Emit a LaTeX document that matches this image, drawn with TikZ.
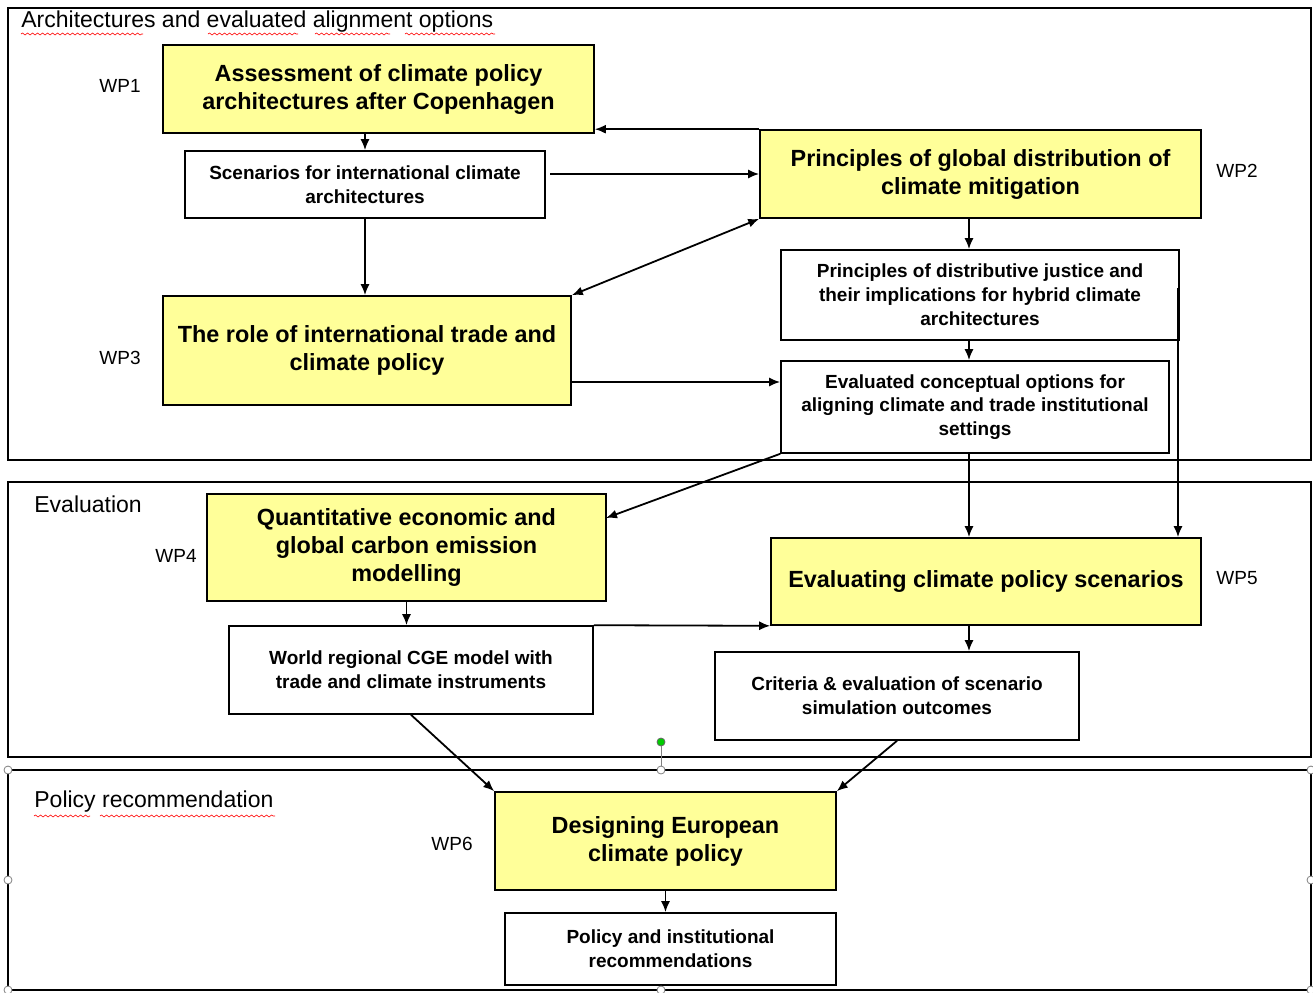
\documentclass[tikz,border=0pt]{standalone}
\usepackage{fontspec}
\setmainfont{Liberation Sans}
\usetikzlibrary{arrows.meta,decorations.pathmorphing}
\definecolor{wpyellow}{RGB}{255,255,153}

\begin{document}
\begin{tikzpicture}[x=0.5pt,y=-0.5pt,
    wp/.style={draw, line width=0.8pt, fill=wpyellow, align=center, inner sep=0pt,
      font=\bfseries\fontsize{11.7}{14}\selectfont},
    res/.style={draw, line width=0.8pt, fill=white, align=center, inner sep=0pt,
      font=\bfseries\fontsize{9.5}{11.9}\selectfont},
    wplabel/.style={font=\fontsize{9.5}{10}\selectfont, inner sep=0pt},
    frametitle/.style={anchor=west, inner sep=0pt, font=\fontsize{11.5}{12}\selectfont},
    arr/.style={-{Latex[length=5.5pt,width=4.5pt]}, line width=0.9pt},
    squiggle/.style={red, line width=0.3pt, decorate,
      decoration={snake, amplitude=0.5pt, segment length=2.5pt}},
    handle/.style={circle, draw=gray, fill=white, inner sep=0pt, minimum size=4pt}]
    \useasboundingbox (0,0) rectangle (1313,992);

    % Frames
    \draw[line width=0.8pt] (8,8) rectangle (1311,460);
    \draw[line width=0.8pt] (8,482) rectangle (1311,757);
    \draw[line width=1pt] (8,770) rectangle (1311,990);

    \node[frametitle] (t1) at (21,22) {Architectures and evaluated alignment options};
    \node[frametitle] (t2) at (34,504) {Evaluation};
    \node[frametitle] (t3) at (34,802) {Policy recommendation};

    % Spell check marks
    \draw[squiggle] (21,34) -- (143,34);
    \draw[squiggle] (208,34) -- (298,34);
    \draw[squiggle] (315,34) -- (390,34);
    \draw[squiggle] (405,34) -- (495,34);
    \draw[squiggle] (352,586) -- (460,586);
    \draw[squiggle] (34,816) -- (90,816);
    \draw[squiggle] (100,816) -- (275,816);

    % Work packages
    \node[wp, minimum width=215.5pt, minimum height=44pt] (wp1) at (378.5,89)
      {Assessment of climate policy\\architectures after Copenhagen};
    \node[wp, minimum width=220.5pt, minimum height=44pt] (wp2) at (980.5,174)
      {Principles of global distribution of\\climate mitigation};
    \node[wp, minimum width=204pt, minimum height=54.5pt] (wp3) at (367,350.5)
      {The role of international trade and\\climate policy};
    \node[wp, minimum width=199.5pt, minimum height=53.5pt] (wp4) at (406.5,547.5)
      {Quantitative economic and\\global carbon emission\\modelling};
    \node[wp, minimum width=215pt, minimum height=43.5pt] (wp5) at (986,581.5)
      {Evaluating climate policy scenarios};
    \node[wp, minimum width=170.5pt, minimum height=49pt] (wp6) at (665.5,841)
      {Designing European\\climate policy};

    % Results
    \node[res, minimum width=180pt, minimum height=33.5pt] (scen) at (365,184.5)
      {Scenarios for international climate\\architectures};
    \node[res, minimum width=199pt, minimum height=45pt] (justice) at (980,295)
      {Principles of distributive justice and\\their implications for hybrid climate\\architectures};
    \node[res, minimum width=194pt, minimum height=46pt] (evalopt) at (975,407)
      {Evaluated conceptual options for\\aligning climate and trade institutional\\settings};
    \node[res, minimum width=182pt, minimum height=44pt] (cge) at (411,670)
      {World regional CGE model with\\trade and climate instruments};
    \node[res, minimum width=182pt, minimum height=44pt] (crit) at (897,696)
      {Criteria \& evaluation of scenario\\simulation outcomes};
    \node[res, minimum width=165.5pt, minimum height=36pt] (recom) at (670.5,949)
      {Policy and institutional\\recommendations};

    % WP labels
    \node[wplabel] (l1) at (120,86) {WP1};
    \node[wplabel] (l2) at (1237,171) {WP2};
    \node[wplabel] (l3) at (120,358) {WP3};
    \node[wplabel] (l4) at (176,556) {WP4};
    \node[wplabel] (l5) at (1237,578) {WP5};
    \node[wplabel] (l6) at (452,844) {WP6};

    % Arrows
    \coordinate (spine) at (969,0);
    \coordinate (s2) at (550,174);
    \coordinate (s3) at (571,382);
    \coordinate (s4) at (606,518);
    \coordinate (side) at (1178,288);

    \draw[arr] (scen.north |- wp1.south) -- (scen.north);
    \draw[arr] (s2) -- (s2 -| wp2.west);
    \draw[arr] (wp2.north west) -- (wp2.north west -| wp1.east);
    \draw[arr] (scen.south) -- (scen.south |- wp3.north);
    \draw[{Latex[length=5.5pt,width=4.5pt]}-{Latex[length=5.5pt,width=4.5pt]}, line width=0.9pt]
      (wp2.south west) -- (wp3.north east);
    \draw[arr] (wp2.south -| spine) -- (justice.north -| spine);
    \draw[arr] (justice.south -| spine) -- (evalopt.north -| spine);
    \draw[arr] (s3) -- (s3 -| evalopt.west);
    \draw[arr] (evalopt.south west) -- (s4);
    \draw[arr] (evalopt.south -| spine) -- (wp5.north -| spine);
    \draw[arr] (side) -- (side |- wp5.north);
    \draw[arr] (wp4.south) -- (wp4.south |- cge.north);
    \draw[arr] (cge.north east) -- (wp5.south west);
    \draw[arr] (wp5.south -| spine) -- (crit.north -| spine);
    \draw[arr] (cge.south) -- (wp6.north west);
    \draw[arr] (crit.south) -- (wp6.north east);
    \draw[arr] (wp6.south) -- (wp6.south |- recom.north);

    % Selection handles
    \node[handle, fill=green!80!black, draw=black!60] (rot) at (661,742) {};
    \node[handle] (h2) at (661,770) {};
    \draw[gray] (rot) -- (h2);
    \node[handle] (h1) at (8,770) {};
    \node[handle] (h3) at (1311,770) {};
    \node[handle] (h4) at (8,880) {};
    \node[handle] (h5) at (1311,880) {};
    \node[handle] (h6) at (8,990) {};
    \node[handle] (h7) at (661,990) {};
    \node[handle] (h8) at (1311,990) {};
\end{tikzpicture}
\end{document}
